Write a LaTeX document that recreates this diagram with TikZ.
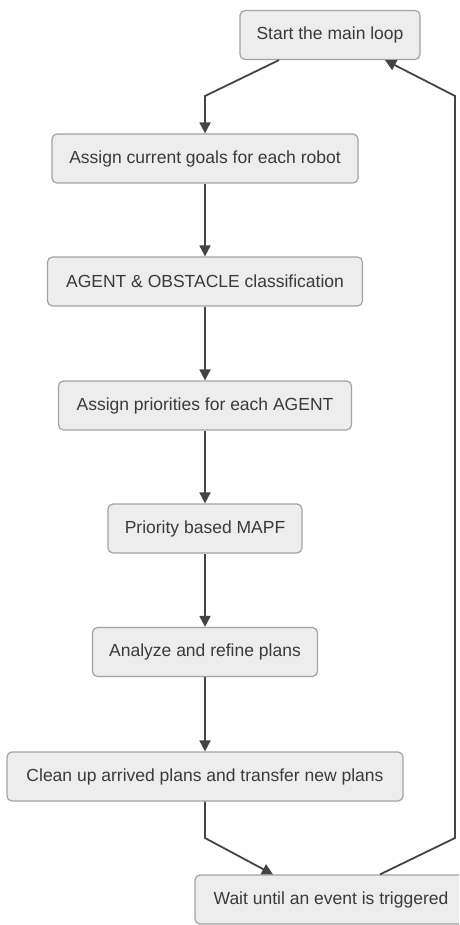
\documentclass[tikz,border=0pt]{standalone}
\usepackage{fontspec}
\setmainfont{Liberation Sans}
\usetikzlibrary{arrows.meta}
\definecolor{boxfill}{HTML}{EDEDED}
\definecolor{boxline}{HTML}{A3A3A3}
\definecolor{txt}{HTML}{3A3A3A}
\definecolor{wire}{HTML}{444444}
\tikzset{
  stepbox/.style={draw=boxline, fill=boxfill, line width=1.2pt, rounded corners=5pt,
    text=txt, font=\fontsize{17.5}{20}\selectfont, inner sep=0pt, minimum height=49pt},
  conn/.style={draw=wire, line width=1.8pt, -{Triangle[width=11pt,length=11pt]}}
}
\begin{document}
\begin{tikzpicture}[x=1pt,y=1pt]
\useasboundingbox (0,0) rectangle (459,-925);
\clip (0,0) rectangle (459,-925);

% process steps
\node[stepbox, minimum width=180pt] (start) at (330,-35) {Start the main loop};
\node[stepbox, minimum width=306pt] (goals) at (205,-158.5) {Assign current goals for each robot};
\node[stepbox, minimum width=315pt] (class) at (205,-281.5) {AGENT \& OBSTACLE classification};
\node[stepbox, minimum width=293pt] (prio) at (205,-405.5) {Assign priorities for each AGENT};
\node[stepbox, minimum width=194pt] (mapf) at (205,-528.5) {Priority based MAPF};
\node[stepbox, minimum width=225pt] (refine) at (205,-652) {Analyze and refine plans};
\node[stepbox, minimum width=396pt] (clean) at (205,-776.5) {Clean up arrived plans and transfer new plans};
\node[stepbox, minimum width=272pt] (wait) at (331,-899.5) {Wait until an event is triggered};

% bend points
\coordinate (b1) at (205,-96);
\coordinate (b2) at (205,-838);
\coordinate (b3) at (455,-838);
\coordinate (b4) at (455,-96);

% connectors
\draw[conn] ([xshift=-51pt]start.south) -- (b1) -- (goals.north);
\draw[conn] (goals) -- (class);
\draw[conn] (class) -- (prio);
\draw[conn] (prio) -- (mapf);
\draw[conn] (mapf) -- (refine);
\draw[conn] (refine) -- (clean);
\draw[conn] (clean.south) -- (b2) -- ([xshift=-58pt]wait.north);
\draw[conn] ([xshift=49pt]wait.north) -- (b3) -- (b4) -- ([xshift=55pt]start.south);
\end{tikzpicture}
\end{document}
